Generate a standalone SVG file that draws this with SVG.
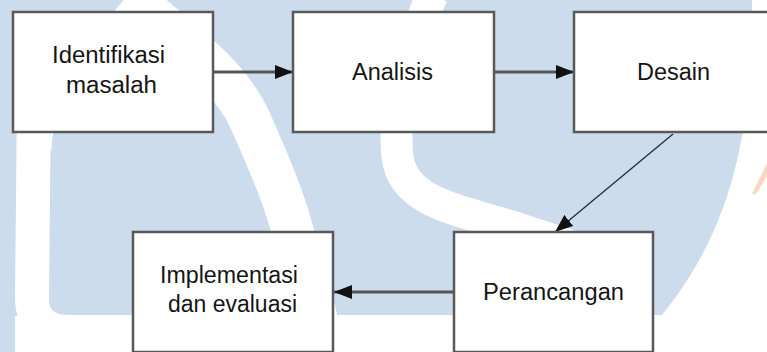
<svg xmlns="http://www.w3.org/2000/svg" width="767" height="352" viewBox="0 0 767 352">
<style>
.box{fill:#ffffff;stroke:#595959;stroke-width:2.5}
.lbl{font-family:"Liberation Sans",Arial,sans-serif;font-size:23px;fill:#151515}
.conn{stroke:#555555;stroke-width:3;fill:none}
.diag{stroke:#333333;stroke-width:1.5;fill:none}
.wm{fill:none;stroke:#ffffff}
</style>
<defs>
<marker id="ah" markerUnits="userSpaceOnUse" markerWidth="18" markerHeight="14" refX="18" refY="7" orient="auto">
<path d="M0,0 L18,7 L0,14 Z" fill="#111111"/>
</marker>
</defs>
<g id="watermark">
<rect x="0" y="0" width="767" height="352" fill="#ffffff"/>
<path d="M0,0 H752 C752,130 735,240 640,340 L628,352 H0 Z" fill="#ccdcec"/>
<path class="wm" stroke-width="34" d="M34,100 L32,298 Q32,332 70,332 L700,332"/>
<rect x="15" y="316" width="752" height="36" fill="#ffffff"/>
<path class="wm" stroke-width="35" d="M34,150 C36,90 70,45 125,35"/>
<path class="wm" stroke-width="42" d="M128,-5 C180,40 228,72 250,120 C272,170 285,200 295,240 C305,275 315,300 322,352"/>
<path class="wm" stroke-width="32" d="M432,-5 C405,60 392,120 398,160 C405,200 450,208 510,226 L620,262"/>
<path d="M752,194 L767,163 L767,176 L756,194 Z" fill="#fad8bf"/>
</g>
<g id="connectors">
<line class="conn" x1="214" y1="72" x2="293" y2="72" marker-end="url(#ah)"/>
<line class="conn" x1="495" y1="72" x2="574" y2="72" marker-end="url(#ah)"/>
<line class="diag" x1="673" y1="134" x2="555" y2="232" marker-end="url(#ah)"/>
<line class="conn" x1="453" y1="292" x2="334" y2="292" marker-end="url(#ah)"/>
</g>
<g id="node-identifikasi">
<rect class="box" x="13" y="12" width="200" height="120"/>
<text class="lbl" x="52" y="63" textLength="113" lengthAdjust="spacingAndGlyphs">Identifikasi</text>
<text class="lbl" x="66" y="93" textLength="91" lengthAdjust="spacingAndGlyphs">masalah</text>
</g>
<g id="node-analisis">
<rect class="box" x="293" y="12" width="201" height="120"/>
<text class="lbl" x="352" y="80" textLength="81" lengthAdjust="spacingAndGlyphs">Analisis</text>
</g>
<g id="node-desain">
<rect class="box" x="574" y="12" width="200" height="120"/>
<text class="lbl" x="637" y="80" textLength="73" lengthAdjust="spacingAndGlyphs">Desain</text>
</g>
<g id="node-perancangan">
<rect class="box" x="454" y="232" width="199" height="120"/>
<text class="lbl" x="483" y="300" textLength="141" lengthAdjust="spacingAndGlyphs">Perancangan</text>
</g>
<g id="node-implementasi">
<rect class="box" x="133" y="232" width="200" height="120"/>
<text class="lbl" x="160" y="283" textLength="138" lengthAdjust="spacingAndGlyphs">Implementasi</text>
<text class="lbl" x="168" y="312" textLength="129" lengthAdjust="spacingAndGlyphs">dan evaluasi</text>
</g>
</svg>
